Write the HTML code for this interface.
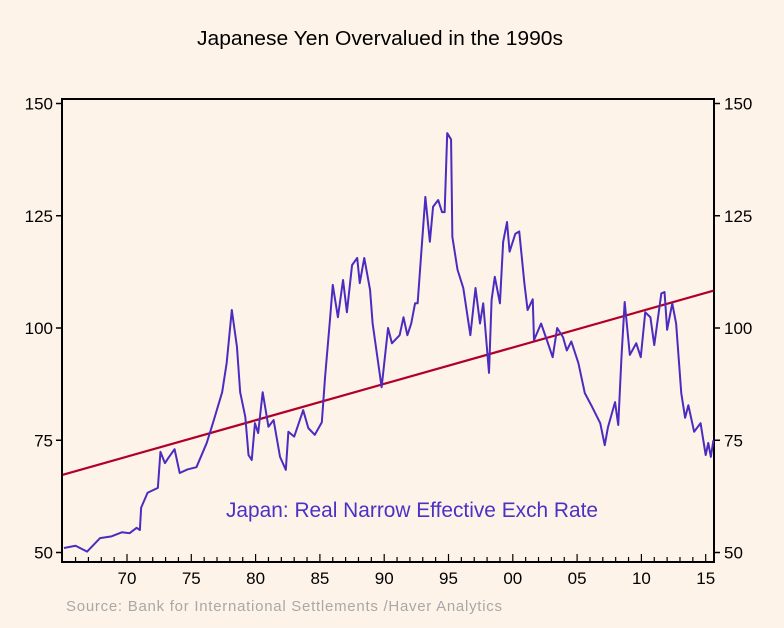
<!DOCTYPE html>
<html><head><meta charset="utf-8"><style>
body{margin:0;background:#fef3e8;}
svg{display:block;font-family:"Liberation Sans",sans-serif;}
</style></head><body>
<svg id="chart" width="784" height="628">
<rect width="784" height="628" fill="#fef3e8"/>
<text x="197" y="45" font-size="20" textLength="366" lengthAdjust="spacingAndGlyphs" fill="#000">Japanese Yen Overvalued in the 1990s</text>
<g id="axes"></g>
<g id="marks"></g>
<text x="226" y="517" font-size="21" textLength="372" lengthAdjust="spacingAndGlyphs" fill="#4a32c4">Japan: Real Narrow Effective Exch Rate</text>
<text x="66" y="611" font-size="15" textLength="436" lengthAdjust="spacing" fill="#a8a8a8">Source:  Bank for International Settlements /Haver Analytics</text>
</svg>
<script>
const years=[1965.1,1966.0,1966.9,1967.9,1968.8,1969.6,1970.2,1970.75,1971.0,1971.1,1971.6,1972.4,1972.6,1972.95,1973.2,1973.7,1974.1,1974.7,1975.4,1976.2,1976.7,1977.4,1977.75,1978.15,1978.55,1978.8,1979.2,1979.45,1979.7,1979.95,1980.2,1980.55,1981.0,1981.4,1981.9,1982.35,1982.55,1983.0,1983.7,1984.1,1984.6,1985.15,1985.4,1985.8,1986.0,1986.4,1986.8,1987.1,1987.5,1987.9,1988.1,1988.45,1988.9,1989.1,1989.8,1990.3,1990.6,1991.2,1991.5,1991.8,1992.1,1992.4,1992.6,1992.9,1993.2,1993.55,1993.8,1994.2,1994.5,1994.7,1994.9,1995.2,1995.3,1995.7,1996.15,1996.7,1997.1,1997.45,1997.7,1998.15,1998.35,1998.6,1999.0,1999.25,1999.55,1999.75,2000.2,2000.5,2000.9,2001.15,2001.55,2001.65,2002.2,2002.65,2003.1,2003.45,2003.9,2004.2,2004.55,2005.1,2005.6,2006.1,2006.8,2007.15,2007.4,2007.95,2008.2,2008.45,2008.7,2009.1,2009.6,2009.95,2010.3,2010.7,2011.0,2011.55,2011.8,2012.0,2012.4,2012.7,2013.1,2013.4,2013.65,2014.1,2014.6,2015.0,2015.2,2015.4,2015.6];
const rates=[51,51.5,50.2,53.2,53.6,54.5,54.3,55.5,55,60,63.3,64.4,72.4,69.9,71,73,67.7,68.5,69,74.4,79,85.7,92.2,104,95.8,85.7,80.2,71.7,70.6,78.8,76.6,85.7,78,79.5,71.3,68.4,76.9,75.8,81.7,77.7,76.2,79,89,102.4,109.6,102.4,110.7,103.5,114,115.6,110,115.6,108.5,101,86.8,100,96.6,98.4,102.4,98.4,101,105.5,105.5,117.4,129.2,119.2,127,128.5,125.8,125.8,143.4,142,120.3,113,108.9,98.4,108.9,101,105.5,90,106.2,111.4,105.5,119.2,123.6,117,121,121.5,110,104,106.4,97.3,101,97.3,93.5,100,98,95,97,92.2,85.5,82.8,78.8,73.9,77.9,83.5,78.4,93.5,105.8,94,96.6,93.5,103.5,102.4,96.2,107.7,108,99.6,105.5,101,85.5,80,82.8,76.9,78.8,71.7,74.4,71.3,75];
const trendYears=[1965.0,2015.6];
const trendValues=[67.3,108.3];
const yTicks=[50,75,100,125,150];
const xTickLabels=["70","75","80","85","90","95","00","05","10","15"];
const xTickYears=[1970,1975,1980,1985,1990,1995,2000,2005,2010,2015];
const X0=62,X1=714,Y0=562,Y1=99;
function xs(yr){return 127+(yr-1970)*12.86;}
function ys(v){return 552.5-(v-50)*4.49;}
const NS="http://www.w3.org/2000/svg";
function mk(tag,attrs,parent){const e=document.createElementNS(NS,tag);for(const k in attrs)e.setAttribute(k,attrs[k]);parent.appendChild(e);return e;}
const axes=document.getElementById('axes'),marks=document.getElementById('marks');
const frame=mk('rect',{x:X0,y:Y1,width:X1-X0,height:Y0-Y1,fill:'none',stroke:'#000','stroke-width':2},axes);


yTicks.forEach(v=>{
  const y=ys(v);
  const t1=mk('line',{x1:X0-6,x2:X0,y1:y,y2:y,stroke:'#000','stroke-width':1.5},axes);
  
  
  const t2=mk('line',{x1:X1,x2:X1+6,y1:y,y2:y,stroke:'#000','stroke-width':1.5},axes);
  
  
  const l1=mk('text',{x:X0-9,y:y+6,'font-size':17,'text-anchor':'end'},axes);l1.textContent=v;
  
  
  const l2=mk('text',{x:X1+10,y:y+6,'font-size':17},axes);l2.textContent=v;
  
  
});
for(let yr=1966;yr<=2015;yr++){
  const x=xs(yr);
  const major=yr%5===0;
  const t=mk('line',{x1:x,x2:x,y1:Y0,y2:Y0-(major?8:5),stroke:'#000','stroke-width':1.2},axes);
  
  
}
xTickYears.forEach((yr,i)=>{
  const l=mk('text',{x:xs(yr),y:Y0+22,'font-size':17,'text-anchor':'middle'},axes);l.textContent=xTickLabels[i];
  
  
});
const tr=mk('polyline',{points:trendYears.map((y,i)=>xs(y)+','+ys(trendValues[i])).join(' '),fill:'none',stroke:'#b0002a','stroke-width':2.2},marks);


const ln=mk('polyline',{points:years.map((y,i)=>xs(y)+','+ys(rates[i])).join(' '),fill:'none',stroke:'#4a2cc0','stroke-width':2,'stroke-linejoin':'round'},marks);


</script>
</body></html>
